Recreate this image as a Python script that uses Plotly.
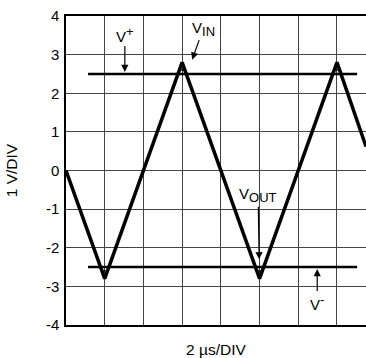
import plotly.graph_objects as go

# time in divisions (2 us/DIV), volts
t_in = [0, 1, 3, 5, 7, 7.75]
v_in = [0, -2.8, 2.8, -2.8, 2.8, 0.62]

t_out = [0, 0.93, 1.07, 2.93, 3.07, 4.93, 5.07, 6.93, 7.07, 7.75]
v_out = [0, -2.6, -2.6, 2.6, 2.6, -2.6, -2.6, 2.6, 2.6, 0.62]

rail_t = [0.57, 7.52]
v_pos = [2.5, 2.5]
v_neg = [-2.5, -2.5]

y_ticks = [-4, -3, -2, -1, 0, 1, 2, 3, 4]
y_labels = ["-4", "-3", "-2", "-1", "0", "1", "2", "3", "4"]

FONT = "Arial, Liberation Sans, sans-serif"

fig = go.Figure()
fig.add_trace(go.Scatter(x=rail_t, y=v_pos, mode="lines", line=dict(color="black", width=2.5)))
fig.add_trace(go.Scatter(x=rail_t, y=v_neg, mode="lines", line=dict(color="black", width=2.5)))
fig.add_trace(go.Scatter(x=t_in, y=v_in, mode="lines", line=dict(color="black", width=3.5)))
fig.add_trace(go.Scatter(x=t_out, y=v_out, mode="lines", line=dict(color="black", width=1.2)))

ann = dict(showarrow=True, arrowhead=2, arrowsize=1.2, arrowwidth=1.2, arrowcolor="black",
           font=dict(family=FONT, size=15, color="black"), xref="x", yref="y")


def label(main, part, sup):
    tag = "sup" if sup else "sub"
    return f"{main}<{tag}><span style='font-size:13px'>{part}</span></{tag}>"


fig.add_annotation(x=1.52, y=2.55, ax=0, ay=-38, text=label("V", "+", True), **ann)
fig.add_annotation(x=3.26, y=2.87, ax=11, ay=-31, text=label("V", "IN", False), **ann)
fig.add_annotation(x=4.99, y=-2.3, ax=-1, ay=-64, text=label("V", "OUT", False), **ann)
fig.add_annotation(x=6.49, y=-2.55, ax=0, ay=34, text=label("V", "-", True), **ann)

fig.update_xaxes(range=[0, 7.75], dtick=1, showticklabels=False, ticks="", automargin=False,
                 showgrid=True, gridcolor="#444", gridwidth=1, zeroline=False,
                 showline=True, linecolor="black", linewidth=1.5, mirror=True,
                 title=dict(text="2 µs/DIV", font=dict(family=FONT, size=15.5, color="black"), standoff=18))
fig.update_yaxes(range=[-4, 4], tickvals=y_ticks, ticktext=y_labels, ticks="", automargin=False,
                 ticklabelstandoff=2, ticklabeloverflow="allow",
                 showgrid=True, gridcolor="#444", gridwidth=1, zeroline=False,
                 showline=True, linecolor="black", linewidth=1.5,
                 tickfont=dict(family=FONT, size=15, color="black"),
                 title=dict(text="1 V/DIV", font=dict(family=FONT, size=15.5, color="black"), standoff=24))
fig.update_layout(
    width=366, height=358,
    margin=dict(l=66, r=0, t=16, b=33),
    paper_bgcolor="white", plot_bgcolor="white",
    showlegend=False,
)
# drop the default 8px body margin so the figure fills the window
fig.write_html("out.html", config={"displayModeBar": False},
               post_script="document.body.style.margin='0';")
